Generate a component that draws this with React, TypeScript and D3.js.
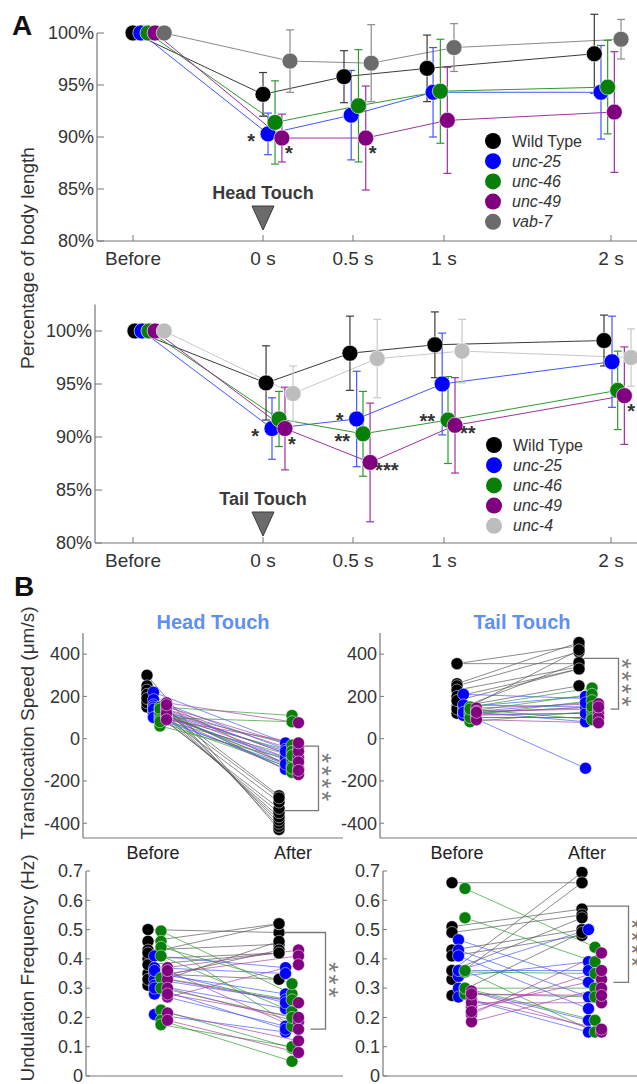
import React from "react";
import * as d3 from "d3";

const W = 637;
const H = 1084;
const FONT = "'Liberation Sans', Arial, Helvetica, sans-serif";

// ---------- Panel A data ----------
const timeTicks = [-1, 0, 0.5, 1, 2];
const timeLabels = ["Before", "0 s", "0.5 s", "1 s", "2 s"];

const headNames = ["Wild Type", "unc-25", "unc-46", "unc-49", "vab-7"];
const tailNames = ["Wild Type", "unc-25", "unc-46", "unc-49", "unc-4"];

// measured time of each mean (slightly jittered around the tick)
const headTimes = [
  [-1, 0, 0.45, 0.907, 1.9],
  [-0.94, 0.028, 0.49, 0.94, 1.94],
  [-0.885, 0.067, 0.53, 0.98, 1.98],
  [-0.83, 0.105, 0.57, 1.02, 2.02],
  [-0.76, 0.15, 0.6, 1.06, 2.06],
];
const headMeans = [
  [100, 94.1, 95.8, 96.6, 98.0],
  [100, 90.3, 92.1, 94.3, 94.3],
  [100, 91.4, 93.0, 94.4, 94.8],
  [100, 89.9, 89.9, 91.6, 92.4],
  [100, 97.3, 97.1, 98.6, 99.4],
];
const headSds = [
  [0, 2.1, 2.5, 3.2, 3.8],
  [0, 2.0, 4.3, 4.3, 4.5],
  [0, 4.0, 5.4, 5.0, 4.5],
  [0, 2.3, 5.0, 5.1, 5.8],
  [0, 3.0, 3.7, 2.3, 1.9],
];

const tailTimes = [
  [-0.985, 0.017, 0.483, 0.95, 1.958],
  [-0.93, 0.05, 0.52, 0.99, 2.006],
  [-0.877, 0.089, 0.555, 1.024, 2.04],
  [-0.83, 0.122, 0.594, 1.066, 2.08],
  [-0.76, 0.167, 0.633, 1.108, 2.12],
];
const tailMeans = [
  [100, 95.1, 97.9, 98.7, 99.1],
  [100, 90.8, 91.7, 95.0, 97.1],
  [100, 91.7, 90.3, 91.6, 94.4],
  [100, 90.8, 87.6, 91.1, 93.9],
  [100, 94.1, 97.4, 98.1, 97.5],
];
const tailSds = [
  [0, 3.5, 3.5, 3.1, 2.4],
  [0, 2.9, 4.5, 4.8, 4.3],
  [0, 2.6, 4.0, 4.1, 3.7],
  [0, 3.9, 5.6, 4.5, 4.6],
  [0, 2.6, 3.7, 3.0, 2.7],
];

// significance marks: [series, time index, text, side]
const headStars: [number, number, string, string][] = [
  [1, 1, "*", "l"],
  [3, 1, "*", "br"],
  [3, 2, "*", "br"],
];
const tailStars: [number, number, string, string][] = [
  [1, 1, "*", "l"],
  [3, 1, "*", "br"],
  [1, 2, "*", "ul"],
  [2, 2, "**", "l"],
  [3, 2, "***", "r"],
  [2, 3, "**", "ul"],
  [3, 3, "**", "r"],
  [3, 4, "*", "br"],
];

const aColors = ["#000000", "#0000ff", "#087f08", "#800080"];
const headExtraColor = "#6b6b6b";
const tailExtraColor = "#bdbdbd";
const aLineColors = ["#3a3a3a", "#4455ff", "#2d9a2d", "#a030a0"];

// ---------- Panel B data ----------
const bColors = ["#000000", "#0000ff", "#087f08", "#800080"];
const bLineColors = ["#555555", "#4455ff", "#2d9a2d", "#a040a0"];

const headSpeedBefore = [
  [300, 250, 230, 200, 180, 160, 150, 170, 210, 190],
  [220, 185, 160, 130, 110, 150, 120, 140, 100],
  [150, 130, 110, 60, 100, 120, 140, 90, 80],
  [170, 150, 130, 110, 100, 140, 120, 90, 160],
];
const headSpeedAfter = [
  [-430, -415, -400, -385, -370, -350, -330, -300, -270, -280],
  [-20, -50, -70, -100, -130, -145, -90, -60, -120],
  [110, -30, -60, -100, 80, -130, -160, -80, -140],
  [75, -40, -90, -140, -170, -60, -110, -20, -150],
];
const tailSpeedBefore = [
  [355, 355, 260, 250, 230, 200, 150, 120, 140, 180],
  [210, 150, 120, 130, 160, 110, 125],
  [150, 130, 110, 80, 120, 100, 140],
  [145, 130, 115, 100, 90, 125],
];
const tailSpeedAfter = [
  [355, 440, 455, 410, 340, 330, 250, 420, 360, 330],
  [190, 200, -140, 80, 150, 120, 170],
  [240, 210, 180, 130, 150, 100, 90],
  [165, 140, 120, 100, 75, 150],
];
const headFreqBefore = [
  [0.5, 0.46, 0.43, 0.4, 0.35, 0.31, 0.33, 0.38, 0.42],
  [0.41, 0.37, 0.35, 0.33, 0.31, 0.28, 0.21, 0.36, 0.3],
  [0.495, 0.46, 0.44, 0.41, 0.335, 0.225, 0.19, 0.175, 0.3],
  [0.37, 0.35, 0.33, 0.3, 0.27, 0.215, 0.19, 0.36, 0.28],
];
const headFreqAfter = [
  [0.49, 0.52, 0.45, 0.42, 0.33, 0.46, 0.43, 0.42, 0.52],
  [0.37, 0.35, 0.28, 0.26, 0.23, 0.17, 0.15, 0.25, 0.16],
  [0.28, 0.17, 0.315, 0.22, 0.26, 0.095, 0.05, 0.1, 0.2],
  [0.43, 0.41, 0.25, 0.185, 0.38, 0.12, 0.08, 0.16, 0.2],
];
const tailFreqBefore = [
  [0.66, 0.51, 0.49, 0.43, 0.41, 0.36, 0.33, 0.275, 0.36],
  [0.465, 0.43, 0.41, 0.36, 0.34, 0.3, 0.27, 0.36],
  [0.64, 0.54, 0.355, 0.3, 0.28, 0.3, 0.36],
  [0.29, 0.26, 0.235, 0.21, 0.185, 0.25, 0.22, 0.28],
];
const tailFreqAfter = [
  [0.66, 0.57, 0.55, 0.5, 0.48, 0.695, 0.66, 0.49, 0.54],
  [0.32, 0.27, 0.23, 0.5, 0.39, 0.19, 0.15, 0.36],
  [0.44, 0.39, 0.35, 0.3, 0.27, 0.19, 0.15],
  [0.15, 0.16, 0.33, 0.42, 0.3, 0.25, 0.36, 0.275],
];

const speedTicks = [-400, -200, 0, 200, 400];
const freqTicks = [0, 0.1, 0.2, 0.3, 0.4, 0.5, 0.6, 0.7];

// ---------- shared time scale ----------
const xTime = d3
  .scaleLinear()
  .domain(timeTicks)
  .range([133, 263, 353, 444, 611]);

type ACfg = {
  names: string[];
  colors: string[];
  lineColors: string[];
  times: number[][];
  means: number[][];
  sds: number[][];
  stars: [number, number, string, string][];
  yTop: number;
  yBottom: number;
  axisX: number;
  axisTopVal: number;
  labelY: number;
  touch: string;
  touchY: number;
  legendX: number;
  legendY: number;
};

function PanelA({ c }: { c: ACfg }) {
  const y = d3.scaleLinear().domain([80, 100]).range([c.yBottom, c.yTop]);
  const line = d3.line<[number, number]>();
  const cap = 4;
  const r = 8;
  const tx = xTime(0);
  return (
    <g fontFamily={FONT}>
      {/* axes */}
      <line x1={c.axisX} x2={c.axisX} y1={y(c.axisTopVal)} y2={y(80)} stroke="#777" strokeWidth={1.2} />
      <line x1={c.axisX} x2={W} y1={y(80)} y2={y(80)} stroke="#777" strokeWidth={1.2} />
      {[80, 85, 90, 95, 100].map((v) => (
        <g key={v}>
          <line x1={c.axisX} x2={c.axisX + 7} y1={y(v)} y2={y(v)} stroke="#777" />
          <text x={c.axisX - 3} y={y(v)} dy="0.35em" textAnchor="end" fontSize={18} fill="#333">
            {v}%
          </text>
        </g>
      ))}
      {timeTicks.map((t, i) => (
        <g key={t}>
          <line x1={xTime(t)} x2={xTime(t)} y1={y(80)} y2={y(80) - 6} stroke="#777" />
          <text x={xTime(t)} y={c.labelY} textAnchor="middle" fontSize={19} fill="#333">
            {timeLabels[i]}
          </text>
        </g>
      ))}
      {/* touch marker */}
      <text x={tx} y={c.touchY} textAnchor="middle" fontSize={18} fontWeight="bold" fill="#3a3a3a">
        {c.touch}
      </text>
      <path
        d={`M${tx - 11},${c.touchY + 7}L${tx + 11},${c.touchY + 7}L${tx},${c.touchY + 31}Z`}
        fill="#6b6b6b"
        stroke="#3a3a3a"
        strokeWidth={1}
      />
      {/* lines */}
      {c.means.map((m, s) => (
        <path
          key={"l" + s}
          d={line(m.map((v, i) => [xTime(c.times[s][i]), y(v)]) as [number, number][]) || ""}
          fill="none"
          stroke={c.lineColors[s]}
          strokeWidth={1}
        />
      ))}
      {/* error bars */}
      {c.means.map((m, s) =>
        m.map((v, i) => {
          const sd = c.sds[s][i];
          if (!sd) return null;
          const x = xTime(c.times[s][i]);
          return (
            <g key={"e" + s + "-" + i} stroke={c.lineColors[s]} strokeWidth={1.2}>
              <line x1={x} x2={x} y1={y(v + sd)} y2={y(v - sd)} />
              <line x1={x - cap} x2={x + cap} y1={y(v + sd)} y2={y(v + sd)} />
              <line x1={x - cap} x2={x + cap} y1={y(v - sd)} y2={y(v - sd)} />
            </g>
          );
        })
      )}
      {/* points */}
      {c.means.map((m, s) =>
        m.map((v, i) => (
          <circle
            key={"c" + s + "-" + i}
            cx={xTime(c.times[s][i])}
            cy={y(v)}
            r={r}
            fill={c.colors[s]}
            stroke="#ffffff"
            strokeWidth={0.8}
            strokeOpacity={0.8}
          />
        ))
      )}
      {/* stars */}
      {c.stars.map(([s, i, txt, side], k) => {
        const cx = xTime(c.times[s][i]);
        const cy = y(c.means[s][i]);
        let x = cx - 13;
        let dy = 2;
        let anchor = "end";
        if (side === "ul") {
          dy = -4;
        } else if (side === "r") {
          x = cx + 5;
          dy = 3;
          anchor = "start";
        } else if (side === "br") {
          x = cx + 3;
          dy = 10;
          anchor = "start";
        }
        return (
          <text key={"s" + k} x={x} y={cy + dy + 12} textAnchor={anchor} fontSize={20} fill="#333" fontWeight="bold">
            {txt}
          </text>
        );
      })}
      {/* legend */}
      {c.names.map((n, s) => (
        <g key={"lg" + s}>
          <circle cx={c.legendX} cy={c.legendY + s * 20.2} r={8} fill={c.colors[s]} />
          <text
            x={c.legendX + 19}
            y={c.legendY + s * 20.2}
            dy="0.35em"
            fontSize={16}
            fill="#333"
            fontStyle={s === 0 ? "normal" : "italic"}
          >
            {n}
          </text>
        </g>
      ))}
    </g>
  );
}

type BCfg = {
  before: number[][];
  after: number[][];
  domain: [number, number];
  yRange: [number, number];
  ticks: number[];
  fmt: (v: number) => string;
  axisX: number;
  axisRight: number;
  xBefore: number;
  xAfter: number;
  bracket: { top: number; bottom: number; topFrom: number; bottomFrom: number; gap: number; stars: string };
  title?: string;
  titleX?: number;
  labels?: [number, number];
};

function PanelB({ c }: { c: BCfg }) {
  const y = d3.scaleLinear().domain(c.domain).range(c.yRange);
  const dodge = 6.5;
  const xb = d3.scalePoint<string>().domain(["Before", "After"]).range([c.xBefore, c.xAfter]);
  const px = (phase: string, s: number) => (xb(phase) as number) + s * dodge;
  const b = c.bracket;
  const right = px("After", 3) + b.gap;
  const topStart = px("After", b.topFrom) + (b.topFrom === 3 ? 6 : 5);
  const botStart = px("After", b.bottomFrom) + (b.bottomFrom === 3 ? 12 : 6);
  return (
    <g fontFamily={FONT}>
      <line x1={c.axisX} x2={c.axisX} y1={c.yRange[1]} y2={c.yRange[0]} stroke="#777" strokeWidth={1.2} />
      <line x1={c.axisX} x2={c.axisRight} y1={c.yRange[0]} y2={c.yRange[0]} stroke="#777" strokeWidth={1.2} />
      {c.ticks.map((v) => (
        <g key={v}>
          <line x1={c.axisX} x2={c.axisX + 4} y1={y(v)} y2={y(v)} stroke="#777" />
          <text x={c.axisX - 3} y={y(v)} dy="0.35em" textAnchor="end" fontSize={18} fill="#333">
            {c.fmt(v)}
          </text>
        </g>
      ))}
      {c.title && (
        <text x={c.titleX} y={629} textAnchor="middle" fontSize={20} fontWeight="bold" fill="#5f8ff2">
          {c.title}
        </text>
      )}
      {c.labels && (
        <g fontSize={18} fill="#222" textAnchor="middle">
          <text x={c.labels[0]} y={859}>Before</text>
          <text x={c.labels[1]} y={859}>After</text>
        </g>
      )}
      {c.before.map((arr, s) =>
        arr.map((v, i) => (
          <line
            key={"l" + s + "-" + i}
            x1={px("Before", s)}
            y1={y(v)}
            x2={px("After", s)}
            y2={y(c.after[s][i])}
            stroke={bLineColors[s]}
            strokeWidth={0.8}
            strokeOpacity={0.85}
          />
        ))
      )}
      {c.before.map((arr, s) =>
        arr.map((v, i) => (
          <g key={"c" + s + "-" + i}>
            <circle cx={px("Before", s)} cy={y(v)} r={6} fill={bColors[s]} stroke="#fff" strokeWidth={0.7} strokeOpacity={0.7} />
            <circle cx={px("After", s)} cy={y(c.after[s][i])} r={6} fill={bColors[s]} stroke="#fff" strokeWidth={0.7} strokeOpacity={0.7} />
          </g>
        ))
      )}
      <path
        d={`M${topStart},${y(b.top)}H${right}V${y(b.bottom)}H${botStart}`}
        fill="none"
        stroke="#777"
        strokeWidth={1.3}
      />
      <text
        transform={`translate(${right - 6},${(y(b.top) + y(b.bottom)) / 2}) rotate(90)`}
        textAnchor="middle"
        fontSize={26}
        letterSpacing={2.5}
        fill="#777"
      >
        {b.stars}
      </text>
    </g>
  );
}

const fmtSpeed = (v: number) => String(v);
const fmtFreq = (v: number) => (v === 0 ? "0" : v.toFixed(1));

export default function App() {
  const headCfg: ACfg = {
    names: headNames,
    colors: [...aColors, headExtraColor],
    lineColors: [...aLineColors, "#8a8a8a"],
    times: headTimes,
    means: headMeans,
    sds: headSds,
    stars: headStars,
    yTop: 33,
    yBottom: 241,
    axisX: 97,
    axisTopVal: 100,
    labelY: 265,
    touch: "Head Touch",
    touchY: 199,
    legendX: 493,
    legendY: 141,
  };
  const tailCfg: ACfg = {
    names: tailNames,
    colors: [...aColors, tailExtraColor],
    lineColors: [...aLineColors, "#c8c8c8"],
    times: tailTimes,
    means: tailMeans,
    sds: tailSds,
    stars: tailStars,
    yTop: 331,
    yBottom: 543,
    axisX: 95,
    axisTopVal: 102.5,
    labelY: 567,
    touch: "Tail Touch",
    touchY: 505,
    legendX: 494,
    legendY: 445,
  };
  return (
    <svg width={W} height={H} style={{ display: "block", position: "absolute", left: 0, top: 0, background: "#fff" }}>
      <rect width={W} height={H} fill="#fff" />
      <text x={12} y={35} fontFamily={FONT} fontSize={28} fontWeight="bold" fill="#111">A</text>
      <text x={14} y={596} fontFamily={FONT} fontSize={28} fontWeight="bold" fill="#111">B</text>
      <text transform="translate(27,258) rotate(-90)" textAnchor="middle" dy="0.35em" fontFamily={FONT} fontSize={19} fill="#333">
        Percentage of body length
      </text>
      <text transform="translate(27,723) rotate(-90)" textAnchor="middle" dy="0.35em" fontFamily={FONT} fontSize={19} fill="#333">
        Translocation Speed (μm/s)
      </text>
      <text transform="translate(27,968) rotate(-90)" textAnchor="middle" dy="0.35em" fontFamily={FONT} fontSize={19} fill="#333">
        Undulation Frequency (Hz)
      </text>
      <PanelA c={headCfg} />
      <PanelA c={tailCfg} />
      <PanelB
        c={{
          before: headSpeedBefore,
          after: headSpeedAfter,
          domain: [-470, 500],
          yRange: [838, 633],
          ticks: speedTicks,
          fmt: fmtSpeed,
          axisX: 83,
          axisRight: 343,
          xBefore: 147,
          xAfter: 279,
          bracket: { top: -35, bottom: -340, topFrom: 3, bottomFrom: 0, gap: 20, stars: "****" },
          title: "Head Touch",
          titleX: 213,
          labels: [153, 293],
        }}
      />
      <PanelB
        c={{
          before: tailSpeedBefore,
          after: tailSpeedAfter,
          domain: [-470, 500],
          yRange: [838, 633],
          ticks: speedTicks,
          fmt: fmtSpeed,
          axisX: 380,
          axisRight: W,
          xBefore: 457,
          xAfter: 579,
          bracket: { top: 380, bottom: 140, topFrom: 0, bottomFrom: 3, gap: 20, stars: "****" },
          title: "Tail Touch",
          titleX: 522,
          labels: [457, 587],
        }}
      />
      <PanelB
        c={{
          before: headFreqBefore,
          after: headFreqAfter,
          domain: [0, 0.7],
          yRange: [1076, 871],
          ticks: freqTicks,
          fmt: fmtFreq,
          axisX: 86,
          axisRight: 343,
          xBefore: 148,
          xAfter: 279,
          bracket: { top: 0.49, bottom: 0.16, topFrom: 0, bottomFrom: 3, gap: 27, stars: "***" },
        }}
      />
      <PanelB
        c={{
          before: tailFreqBefore,
          after: tailFreqAfter,
          domain: [0, 0.7],
          yRange: [1076, 871],
          ticks: freqTicks,
          fmt: fmtFreq,
          axisX: 383,
          axisRight: W,
          xBefore: 452,
          xAfter: 582,
          bracket: { top: 0.58, bottom: 0.32, topFrom: 0, bottomFrom: 3, gap: 27, stars: "****" },
        }}
      />
    </svg>
  );
}
